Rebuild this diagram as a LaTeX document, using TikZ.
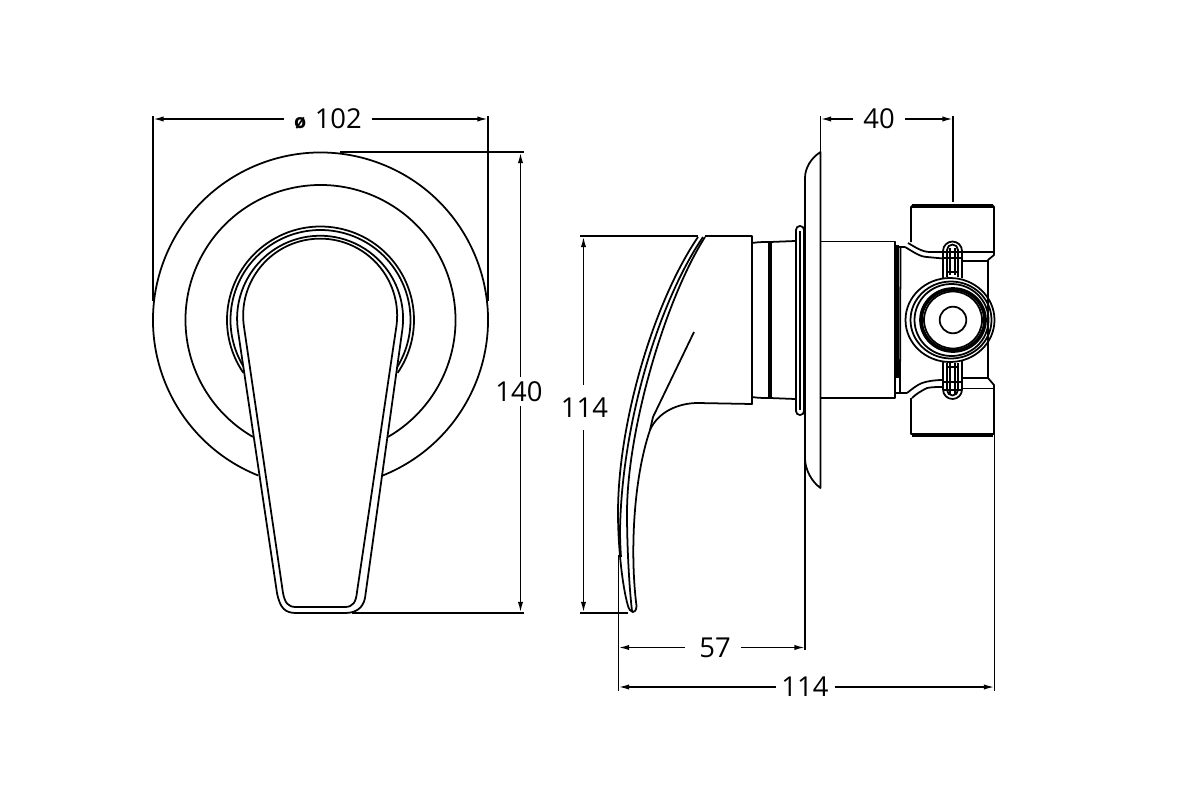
\documentclass[tikz,border=0pt]{standalone}
\usepackage{fontspec}
\setmainfont{Open Sans}
\usetikzlibrary{arrows.meta}
\tikzset{
  part/.style={line width=0.5pt,line join=round},
  thickpart/.style={line width=1.05pt},
  extline/.style={line width=0.45pt},
  dimline/.style={line width=0.45pt,-{Latex[length=3pt,width=1.5pt]}},
  dimlabel/.style={font=\fontsize{7.8}{9}\selectfont,text height=5.6pt,text depth=0pt,
    inner xsep=3pt,inner ysep=1.4pt,outer sep=0pt}
}
\begin{document}
\begin{tikzpicture}[x=0.01cm,y=-0.01cm]
  \useasboundingbox (0,0) rectangle (1200,800);
  % front view
  \draw[part] (320.5,320) ++(111.8:167.5) arc (111.8:428.2:167.5);
  \draw[part] (320.5,320) ++(120:135) arc (120:420:135);
  \draw[part] (320.5,320) ++(145.6:93.5) arc (145.6:394.4:93.5);
  \draw[part] (320.5,320) ++(148.5:90) arc (148.5:391.5:90);
  \draw[part,fill=white] (277,593) -- (238,331) arc (171.5:368.5:83) -- (365,598)
    .. controls (363,608) and (356,613) .. (345,613) -- (296,613)
    .. controls (285,613) and (280,608) .. (277,593) -- cycle;
  \draw[part] (283,593) -- (244,327) arc (171.5:368.5:77) -- (357,592)
    .. controls (356,602) and (353,607) .. (345,607) -- (296,607)
    .. controls (288,607) and (285,603) .. (283,593) -- cycle;
  % side view, handle
  \draw[part] (698,237) .. controls (655,300) and (618,420) .. (618,513)
    .. controls (618,545) and (622,585) .. (628,606)
    .. controls (630,613) and (636,615) .. (636.5,606)
    .. controls (630,555) and (633,480) .. (650,430)
    .. controls (658,412) and (678,403) .. (698,403)
    -- (752,404) -- (752,236) -- (705,236);
  \draw[part] (703,237) .. controls (660,300) and (622,420) .. (620,530)
    .. controls (620,540) and (620.5,550) .. (621,557);
  \draw[part] (705,237) .. controls (665,300) and (627,430) .. (627,513)
    .. controls (627,545) and (629,585) .. (632,611);
  \draw[part] (694,332) -- (653,417) -- (650,430);
  % collar and wall plate
  \draw[part] (752,243) .. controls (758,242) and (764,242) .. (770,242) -- (795,241);
  \draw[part] (752,397) .. controls (758,398) and (764,398) .. (770,398) -- (795,399);
  \draw[thickpart] (770,242) -- (770,398);
  \draw[part,rounded corners=1.1pt] (796,226) rectangle (804,415);
  \draw[thickpart,line width=0.7pt] (800,231) -- (800,410);
  \draw[part] (820.5,152) .. controls (811,158) and (805,168) .. (805,178) -- (805,458)
    .. controls (805,470) and (812,482) .. (820.5,488) -- cycle;
  \draw[part] (820.5,241.5) -- (895,241.5) -- (895,398) -- (820.5,398);
  % valve body
  \draw[thickpart] (897.2,245) -- (897.2,378);
  \draw[part] (900.5,248) -- (900,393);
  \draw[part] (895,247) -- (905,247);
  \draw[part] (895,393) -- (907,393);
  \draw[part] (911,242) -- (911,207) -- (913,205) -- (992,205) -- (994,207) -- (994,255) -- (988,260) -- (988,378)
    -- (994,385) -- (994,434) -- (911,434) -- (911,398);
  \draw[thickpart] (912,206.3) -- (993,206.3);
  \draw[thickpart] (912,435) -- (993,435);
  \draw[part] (908,243) .. controls (915,247) and (922,252) .. (930,252) -- (943,252);
  \draw[part] (905,247) .. controls (912,251) and (920,257) .. (927,257) -- (943,258.5);
  \draw[part] (907,393) .. controls (912,389) and (917,385) .. (922,383) .. controls (928,381) and (935,380) .. (943,380);
  \draw[part] (912,398) .. controls (916,394) and (921,391) .. (927,388) .. controls (932,387) and (937,387) .. (943,387);
  \draw[part] (962,252) -- (994,252);
  \draw[part] (962,261) -- (988,261);
  \draw[part] (962,378) -- (988,378);
  \draw[part] (962,388.5) -- (993,388.5);
  % cross pins
  \draw[part] (943,278) -- (943,251) arc (180:360:9.5) -- (962,278);
  \draw[part] (947,277) -- (947,250) arc (180:360:5.5) -- (958,277);
  \draw[part] (950,248) -- (950,275);
  \draw[part] (955,248) -- (955,275);
  \draw[part] (943,252) -- (962,252);
  \draw[part] (943,258) -- (962,258);
  \draw[part] (947,272) -- (958,272);
  \draw[part] (943,361) -- (943,389.5) arc (180:0:9.5) -- (962,361);
  \draw[part] (947,363) -- (947,390) arc (180:0:5.5) -- (958,363);
  \draw[part] (950,363) -- (950,394);
  \draw[part] (955,363) -- (955,394);
  \draw[part] (943,382) -- (962,382);
  \draw[part] (947,367) -- (958,367);
  \draw[part] (943,390) -- (962,390);
  % end rings
  \foreach \cx/\rx/\ry in {950/44.5/42,951/40.5/38.5,951.5/37/36,953/29/28.5,953/13.3/13.3}
    \draw[part] (\cx,320) ellipse [x radius=\rx,y radius=\ry];
  \draw[thickpart] (953,320) ellipse [x radius=32,y radius=31];
  % extension lines
  \foreach \xa/\ya/\xb/\yb in {153/116/153/301,488/116/488/301,340/152/524/152,352/613/524/613,
      580/236/698/236,580/613/628/613,820.5/116/820.5/152,953/116/953/202,
      618.5/555/618.5/691,805/458/805/650,994.5/385/994.5/691}
    \draw[extline] (\xa,\ya) -- (\xb,\yb);
  % dimensions
  \coordinate (diaLeft) at (153,119);
  \coordinate (diaRight) at (488,119);
  \coordinate (heightTop) at (520.5,152.5);
  \coordinate (heightBottom) at (520.5,612.5);
  \coordinate (leverTop) at (583.5,236.5);
  \coordinate (leverBottom) at (583.5,612.5);
  \coordinate (bodyLeft) at (820.5,119);
  \coordinate (bodyRight) at (953,119);
  \coordinate (reachLeft) at (618.5,647.5);
  \coordinate (reachRight) at (805,647.5);
  \coordinate (totalLeft) at (618.5,687);
  \coordinate (totalRight) at (994.5,687);
  \node[dimlabel] (diaLabel) at (328,119) {{\fontsize{5.6}{6}\selectfont\bfseries ø}\hspace{2.4pt}102};
  \node[dimlabel] (heightLabel) at (519,391.5) {140};
  \node[dimlabel,inner ysep=3.7pt] (leverLabel) at (584.5,407.5) {114};
  \node[dimlabel] (bodyLabel) at (879,119) {40};
  \node[dimlabel] (reachLabel) at (715,647.5) {57};
  \node[dimlabel,inner xsep=1.7pt] (totalLabel) at (805,687) {114};
  \draw[dimline] (diaLabel) -- (diaLeft);
  \draw[dimline] (diaLabel) -- (diaRight);
  \draw[dimline] (heightLabel.north -| heightTop) -- (heightTop);
  \draw[dimline] (heightLabel.south -| heightTop) -- (heightBottom);
  \draw[dimline] (leverLabel.north -| leverTop) -- (leverTop);
  \draw[dimline] (leverLabel.south -| leverTop) -- (leverBottom);
  \draw[dimline] (bodyLabel) -- (bodyLeft);
  \draw[dimline] (bodyLabel) -- (bodyRight);
  \draw[dimline,shorten <=0.04cm] (reachLabel) -- (reachLeft);
  \draw[dimline] (reachLabel) -- (reachRight);
  \draw[dimline] (totalLabel) -- (totalLeft);
  \draw[dimline] (totalLabel) -- (totalRight);
\end{tikzpicture}
\end{document}
